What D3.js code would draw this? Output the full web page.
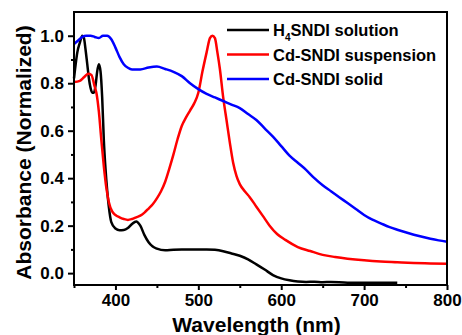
<!DOCTYPE html>
<html>
<head>
<meta charset="utf-8">
<script src="https://cdn.jsdelivr.net/npm/d3@7"></script>
<style>
  body { margin: 0; background: #fff; }
  text { font-family: "Liberation Sans", Arial, sans-serif; font-weight: bold; }
</style>
</head>
<body>
<div id="chart"></div>
<script>
// wavelengths (nm) and normalized absorbance
var blackW = [350, 352, 354, 357, 360, 362, 364, 366, 368, 370, 372, 374, 376, 378, 380, 382, 384, 386, 388, 390, 392, 395, 400, 405, 410, 415, 420, 425, 430, 435, 440, 445, 450, 460, 470, 480, 490, 500, 510, 520, 530, 540, 550, 560, 570, 580, 590, 600, 610, 620, 630, 640, 650, 660, 680, 700, 720, 740];
var blackV = [0.82, 0.88, 0.93, 0.97, 1.0, 0.99, 0.94, 0.88, 0.82, 0.78, 0.76, 0.76, 0.79, 0.85, 0.88, 0.85, 0.74, 0.56, 0.44, 0.35, 0.28, 0.215, 0.188, 0.181, 0.182, 0.19, 0.207, 0.218, 0.2, 0.16, 0.13, 0.112, 0.103, 0.096, 0.099, 0.1, 0.1, 0.1, 0.1, 0.098, 0.092, 0.083, 0.073, 0.058, 0.037, 0.015, -0.008, -0.022, -0.03, -0.035, -0.037, -0.036, -0.038, -0.037, -0.04, -0.04, -0.04, -0.041];

var redW = [350, 357, 362, 367, 371, 375, 377, 380, 383, 386, 389, 392, 396, 400, 405, 410, 415, 420, 425, 430, 435, 440, 445, 450, 455, 460, 465, 470, 475, 480, 485, 490, 495, 500, 505, 510, 514, 517, 520, 523, 526, 530, 534, 538, 542, 546, 550, 556, 562, 570, 578, 586, 595, 605, 620, 635, 650, 665, 680, 700, 720, 740, 760, 780, 800];
var redV = [0.805, 0.81, 0.825, 0.84, 0.835, 0.785, 0.76, 0.68, 0.56, 0.45, 0.36, 0.3, 0.26, 0.245, 0.235, 0.228, 0.224, 0.228, 0.235, 0.242, 0.255, 0.272, 0.29, 0.315, 0.345, 0.385, 0.44, 0.5, 0.565, 0.62, 0.655, 0.685, 0.715, 0.76, 0.85, 0.93, 0.99, 1.0, 0.99, 0.93, 0.86, 0.74, 0.645, 0.55, 0.465, 0.41, 0.375, 0.345, 0.32, 0.28, 0.24, 0.2, 0.165, 0.14, 0.11, 0.093, 0.077, 0.068, 0.061, 0.054, 0.049, 0.046, 0.043, 0.041, 0.039];

var blueW = [350, 355, 360, 365, 370, 375, 380, 385, 390, 395, 400, 405, 410, 415, 420, 430, 440, 450, 460, 470, 480, 490, 500, 510, 520, 530, 540, 550, 560, 570, 580, 590, 600, 610, 620, 630, 640, 650, 660, 670, 680, 690, 700, 710, 720, 730, 740, 750, 760, 770, 780, 790, 800];
var blueV = [0.965, 0.98, 0.995, 1.0, 1.0, 0.995, 0.99, 1.0, 1.0, 0.985, 0.95, 0.91, 0.88, 0.865, 0.858, 0.858, 0.866, 0.87, 0.86, 0.848, 0.83, 0.8, 0.775, 0.755, 0.74, 0.725, 0.71, 0.695, 0.67, 0.645, 0.61, 0.575, 0.535, 0.495, 0.465, 0.435, 0.4, 0.37, 0.345, 0.32, 0.295, 0.27, 0.245, 0.225, 0.21, 0.195, 0.183, 0.172, 0.162, 0.153, 0.145, 0.138, 0.132];

var seriesNames = ["H4SNDI solution", "Cd-SNDI suspension", "Cd-SNDI solid"];
var seriesColors = ["#000000", "#ff0000", "#0000ff"];

var xMajor = [400, 500, 600, 700, 800];
var xMinor = [350, 450, 550, 650, 750];
var yMajor = [0.0, 0.2, 0.4, 0.6, 0.8, 1.0];
var yMinor = [0.1, 0.3, 0.5, 0.7, 0.9];

var margin = {top: 12, right: 15, bottom: 50, left: 74},
    width = 462 - margin.left - margin.right,
    height = 335 - margin.top - margin.bottom;

var svg = d3.select("#chart")
    .append("svg")
    .attr("width", 462)
    .attr("height", 335)
    .append("g")
    .attr("transform", "translate(" + margin.left + "," + margin.top + ")");

var x = d3.scaleLinear().domain([350, 800]).range([0, width]);
var y = d3.scaleLinear().domain([-0.05, 1.1]).range([height, 0]);

// curves
var series = [
    {w: blackW, v: blackV},
    {w: redW, v: redV},
    {w: blueW, v: blueV}
];

var line = d3.line()
    .x(function(d) { return x(d[0]); })
    .y(function(d) { return y(d[1]); })
    .curve(d3.curveMonotoneX);

series.forEach(function(s, i) {
    var pts = s.w.map(function(w, j) { return [w, s.v[j]]; });
    svg.append("path")
        .datum(pts)
        .attr("fill", "none")
        .attr("stroke", seriesColors[i])
        .attr("stroke-width", 2.5)
        .attr("stroke-linejoin", "round")
        .attr("d", line);
});

// axes
svg.append("g")
    .attr("transform", "translate(0," + height + ")")
    .call(d3.axisBottom(x).tickValues(xMajor).tickSize(5).tickPadding(4).tickFormat(d3.format("d")));
svg.append("g")
    .attr("transform", "translate(0," + height + ")")
    .call(d3.axisBottom(x).tickValues(xMinor).tickSize(3).tickFormat(""));

svg.append("g")
    .call(d3.axisLeft(y).tickValues(yMajor).tickSize(6).tickPadding(4).tickFormat(d3.format(".1f")));
svg.append("g")
    .call(d3.axisLeft(y).tickValues(yMinor).tickSize(3).tickFormat(""));

svg.selectAll(".domain").remove();
svg.selectAll(".tick line").attr("stroke", "#000").attr("stroke-width", 2);
svg.selectAll(".tick text").attr("fill", "#000").style("font-size", "17px");

// frame
svg.append("rect")
    .attr("width", width)
    .attr("height", height)
    .attr("fill", "none")
    .attr("stroke", "#000")
    .attr("stroke-width", 2);

// axis titles
svg.append("text")
    .attr("x", width / 2 - 4)
    .attr("y", height + 47)
    .attr("text-anchor", "middle")
    .style("font-size", "21px")
    .text("Wavelength (nm)");

svg.append("text")
    .attr("transform", "rotate(-90)")
    .attr("x", -height / 2 - 4)
    .attr("y", -43)
    .attr("text-anchor", "middle")
    .style("font-size", "21px")
    .text("Absorbance (Normalized)");

// legend
var legend = svg.append("g").attr("transform", "translate(153,18)");
seriesNames.forEach(function(name, i) {
    var g = legend.append("g").attr("transform", "translate(0," + (i * 24.5) + ")");
    g.append("line")
        .attr("x1", 0).attr("x2", 42)
        .attr("stroke", seriesColors[i])
        .attr("stroke-width", 2.5);
    var t = g.append("text")
        .attr("x", 46)
        .attr("y", 6)
        .style("font-size", "16.5px");
    if (i === 0) {
        t.append("tspan").text("H");
        t.append("tspan").attr("dy", 5).style("font-size", "10px").text("4");
        t.append("tspan").attr("dy", -5).text("SNDI solution");
    } else {
        t.text(name);
    }
});
</script>
</body>
</html>
